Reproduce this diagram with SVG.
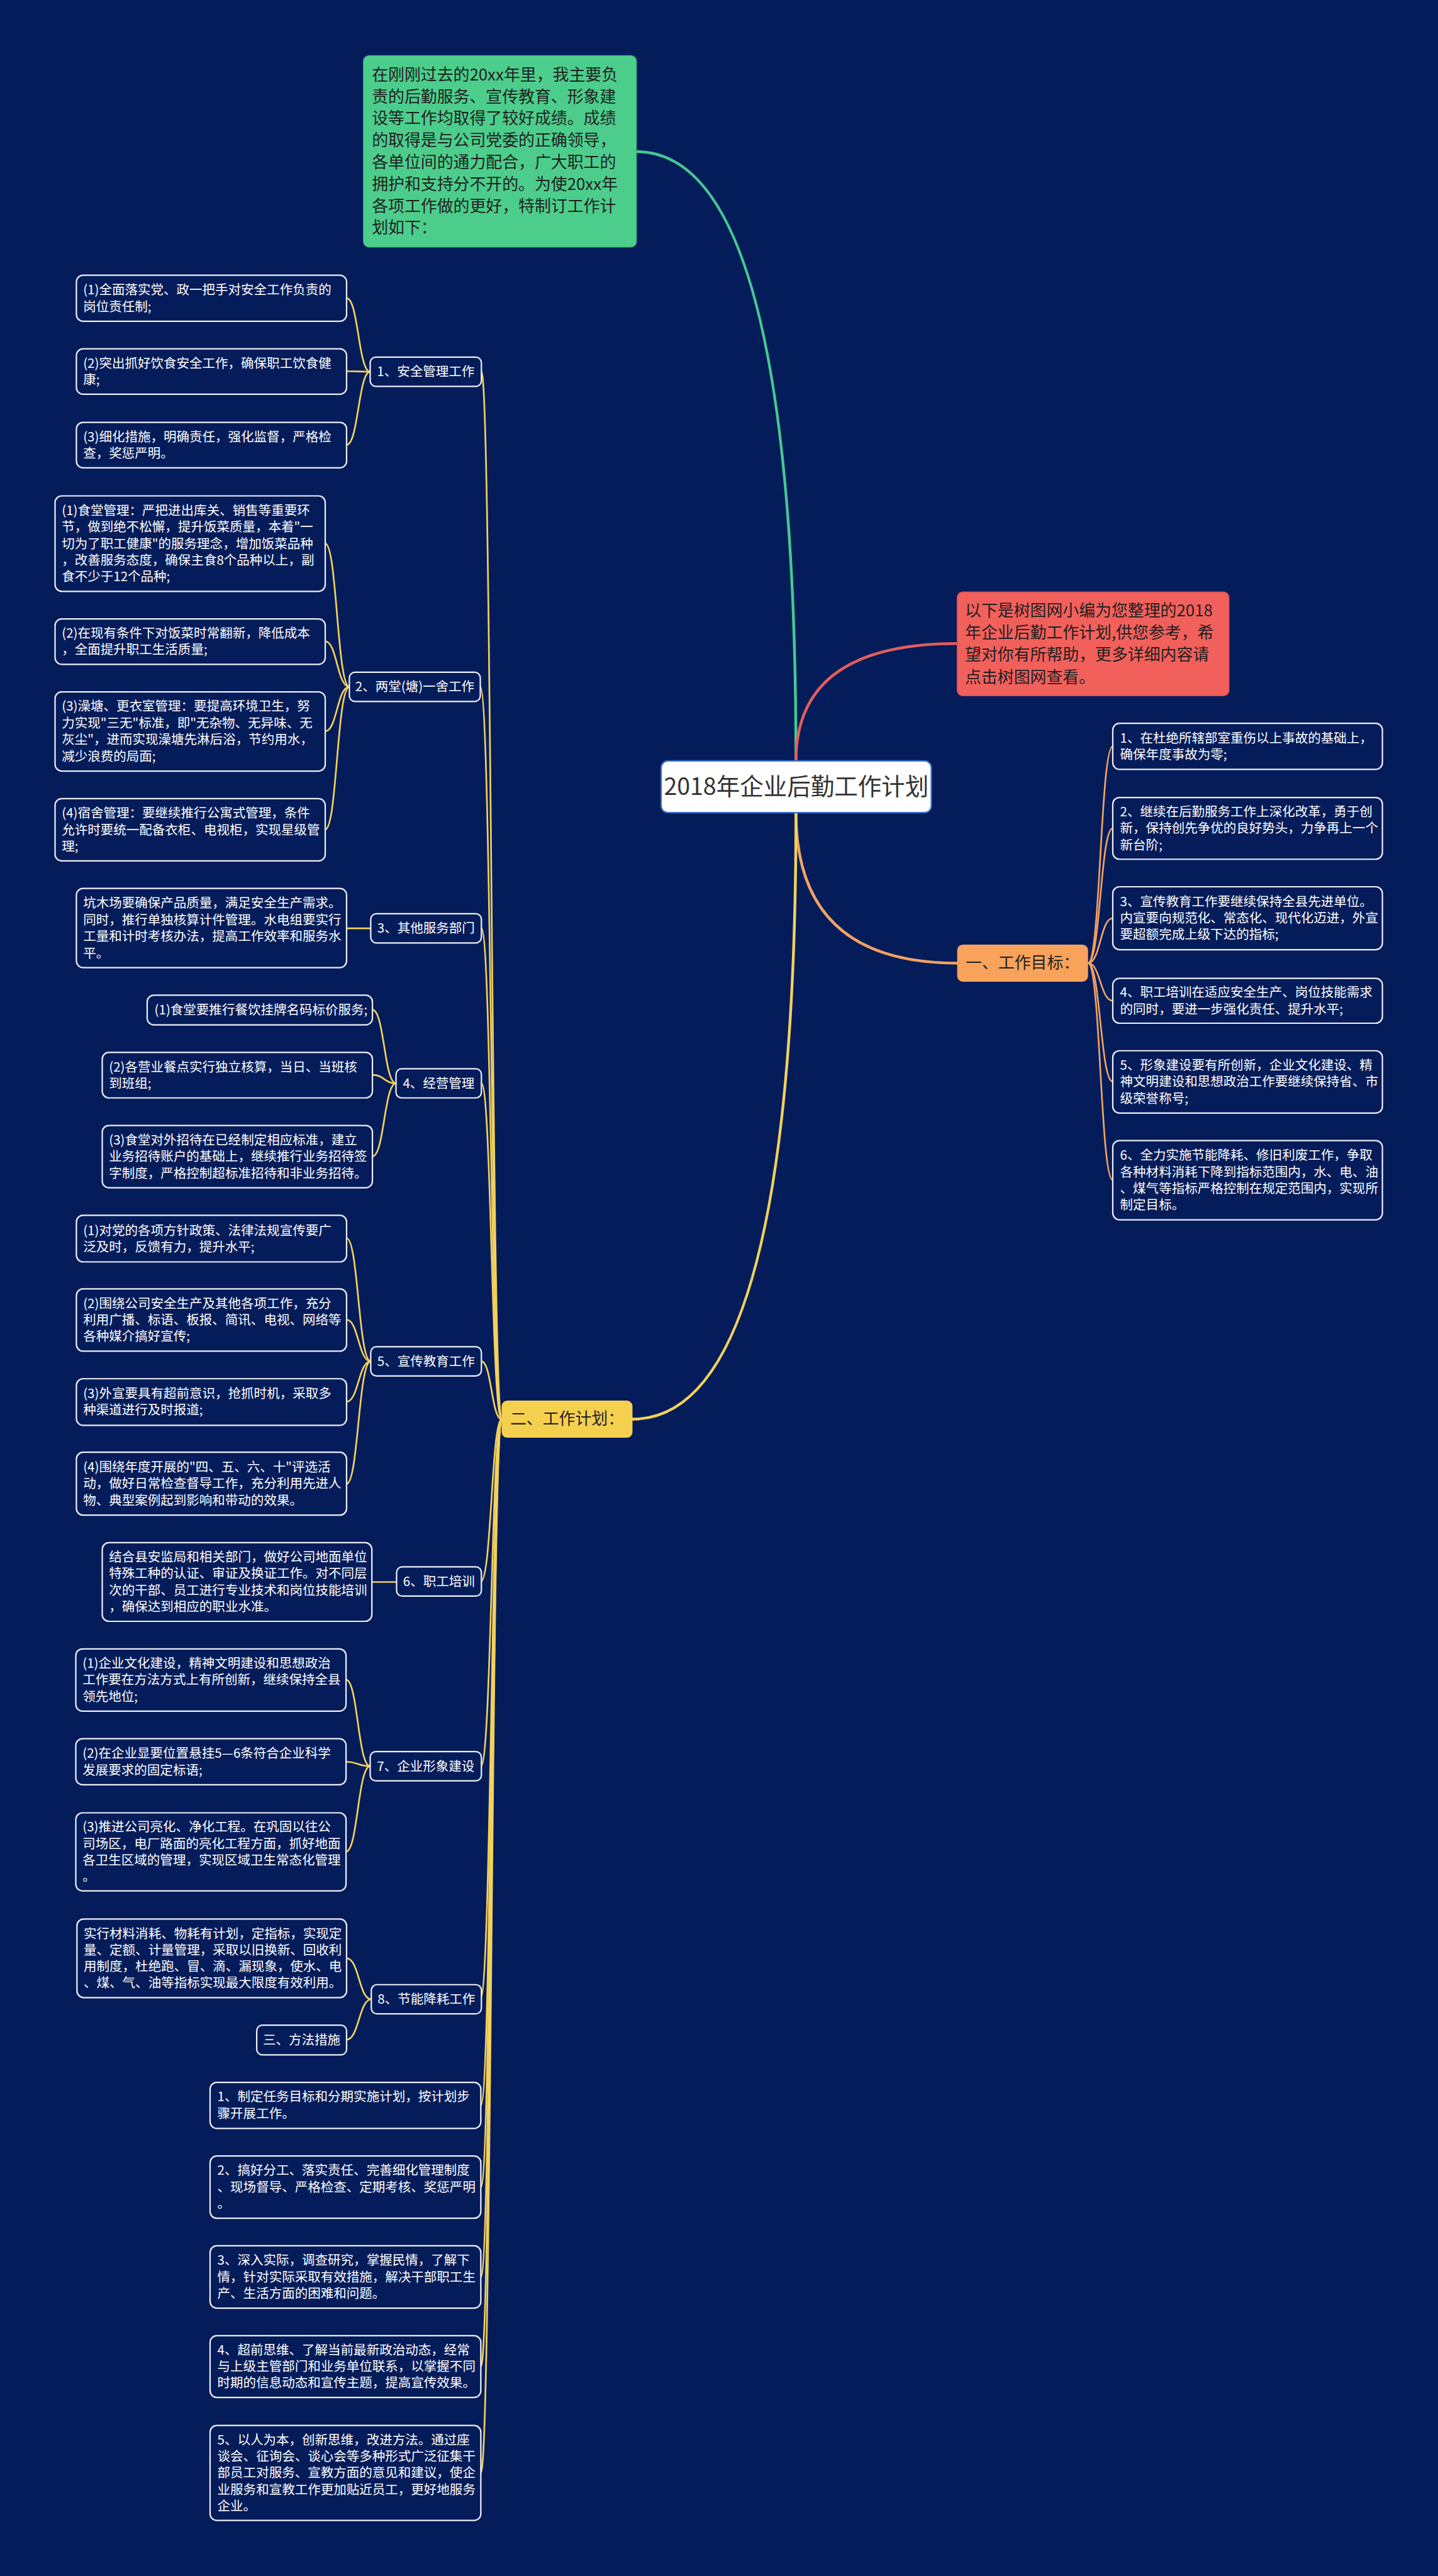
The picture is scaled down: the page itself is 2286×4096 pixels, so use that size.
<svg xmlns="http://www.w3.org/2000/svg" width="2286" height="4096" viewBox="0 0 2286 4096">
<style>
.bx{fill:#051c5a;stroke:#eef0f6;stroke-width:2.5}
.t{font-family:"Noto Sans CJK SC","Liberation Sans",sans-serif;font-size:23px;fill:#ffffff}
.tc{text-anchor:middle}
.d{font-size:29px;fill:#1f1f1f}
.rt{font-size:42px;fill:#333333}
.c1{fill:none;stroke-width:5;stroke-linecap:round}
.c2{fill:none;stroke-width:3}
.g{stroke:#45c98f}.r{stroke:#e35d5b}.o{stroke:#f2a262}.y{stroke:#f2d15c}
</style>
<rect x="0" y="0" width="2286" height="4096" fill="#051c5a"/>
<g transform="scale(0.89297)">
<g id="connectors">
<path class="c1 g" d="M1133,270 Q1417,270 1417,1355"/>
<path class="c1 r" d="M1417,1355 Q1417,1146 1704,1146"/>
<path class="c1 o" d="M1417,1447 Q1417,1715 1704,1715"/>
<path class="c1 y" d="M1417,1447 Q1417,2527 1126,2527"/>
<path class="c2 o" d="M1937,1715 C1959,1715 1959,1329 1981,1329"/>
<path class="c2 o" d="M1937,1715 C1959,1715 1959,1475 1981,1475"/>
<path class="c2 o" d="M1937,1715 C1959,1715 1959,1635 1981,1635"/>
<path class="c2 o" d="M1937,1715 C1959,1715 1959,1782 1981,1782"/>
<path class="c2 o" d="M1937,1715 C1959,1715 1959,1926 1981,1926"/>
<path class="c2 o" d="M1937,1715 C1959,1715 1959,2101 1981,2101"/>
<path class="c2 y" d="M893,2527 C875,2527 875,662 857,662"/>
<path class="c2 y" d="M893,2527 C875,2527 875,1223 855,1223"/>
<path class="c2 y" d="M893,2527 C875,2527 875,1653 857,1653"/>
<path class="c2 y" d="M893,2527 C875,2527 875,1929 857,1929"/>
<path class="c2 y" d="M893,2527 C875,2527 875,2424 857,2424"/>
<path class="c2 y" d="M893,2527 C875,2527 875,2816 856,2816"/>
<path class="c2 y" d="M893,2527 C875,2527 875,3145 856,3145"/>
<path class="c2 y" d="M893,2527 C875,2527 875,3560 855,3560"/>
<path class="c2 y" d="M893,2527 C875,2527 875,3749 856,3749"/>
<path class="c2 y" d="M893,2527 C875,2527 875,3894 856,3894"/>
<path class="c2 y" d="M893,2527 C875,2527 875,4054 856,4054"/>
<path class="c2 y" d="M893,2527 C875,2527 875,4214 856,4214"/>
<path class="c2 y" d="M893,2527 C875,2527 875,4403 856,4403"/>
<path class="c2 y" d="M659,662 C638,662 638,531 617,531"/>
<path class="c2 y" d="M659,662 C638,662 638,661 617,661"/>
<path class="c2 y" d="M659,662 C638,662 638,792 617,792"/>
<path class="c2 y" d="M622,1223 C600,1223 600,968 579,968"/>
<path class="c2 y" d="M622,1223 C600,1223 600,1142 579,1142"/>
<path class="c2 y" d="M622,1223 C600,1223 600,1302 579,1302"/>
<path class="c2 y" d="M622,1223 C600,1223 600,1477 579,1477"/>
<path class="c2 y" d="M617,1653 L660,1653"/>
<path class="c2 y" d="M705,1929 C684,1929 684,1798 663,1798"/>
<path class="c2 y" d="M705,1929 C684,1929 684,1914 663,1914"/>
<path class="c2 y" d="M705,1929 C684,1929 684,2059 663,2059"/>
<path class="c2 y" d="M660,2424 C638,2424 638,2205 617,2205"/>
<path class="c2 y" d="M660,2424 C638,2424 638,2350 617,2350"/>
<path class="c2 y" d="M660,2424 C638,2424 638,2496 617,2496"/>
<path class="c2 y" d="M660,2424 C638,2424 638,2642 617,2642"/>
<path class="c2 y" d="M662,2817 L706,2817"/>
<path class="c2 y" d="M659,3145 C637,3145 637,2991 616,2991"/>
<path class="c2 y" d="M659,3145 C637,3145 637,3137 616,3137"/>
<path class="c2 y" d="M659,3145 C637,3145 637,3297 616,3297"/>
<path class="c2 y" d="M661,3560 C639,3560 639,3487 617,3487"/>
<path class="c2 y" d="M661,3560 C639,3560 639,3632 617,3632"/>
</g>

<g id="intro">
<rect x="647" y="99" width="486" height="341" rx="10" fill="#4ccd8c" stroke="#3fb07a" stroke-width="1.5"/>
<text class="t d" x="662" y="143">在刚刚过去的20xx年里，我主要负</text>
<text class="t d" x="662" y="182">责的后勤服务、宣传教育、形象建</text>
<text class="t d" x="662" y="221">设等工作均取得了较好成绩。成绩</text>
<text class="t d" x="662" y="260">的取得是与公司党委的正确领导，</text>
<text class="t d" x="662" y="299">各单位间的通力配合，广大职工的</text>
<text class="t d" x="662" y="338">拥护和支持分不开的。为使20xx年</text>
<text class="t d" x="662" y="377">各项工作做的更好，特制订工作计</text>
<text class="t d" x="662" y="416">划如下：</text>
</g>

<g id="note">
<rect x="1704" y="1054" width="484" height="185" rx="10" fill="#f2605c" stroke="#d44c4a" stroke-width="1.5"/>
<text class="t d" x="1718" y="1097">以下是树图网小编为您整理的2018</text>
<text class="t d" x="1718" y="1137">年企业后勤工作计划,供您参考，希</text>
<text class="t d" x="1718" y="1176">望对你有所帮助，更多详细内容请</text>
<text class="t d" x="1718" y="1216">点击树图网查看。</text>
</g>

<g id="root">
<rect x="1177" y="1355" width="481" height="92" rx="12" fill="#ffffff" stroke="#3b6fd1" stroke-width="2.5"/>
<text class="t tc rt" x="1417.5" y="1416">2018年企业后勤工作计划</text>
</g>

<g id="goal">
<rect x="1704" y="1682" width="233" height="66" rx="10" fill="#f9a25b"/>
<text class="t tc d" x="1820.5" y="1725">一、工作目标：</text>
</g>

<g id="goal-1">
<rect class="bx" x="1981" y="1288" width="480" height="82" rx="12"/>
<text class="t" x="1994" y="1322">1、在杜绝所辖部室重伤以上事故的基础上，</text>
<text class="t" x="1994" y="1352">确保年度事故为零;</text>
</g>
<g id="goal-2">
<rect class="bx" x="1981" y="1420" width="480" height="110" rx="12"/>
<text class="t" x="1994" y="1453.5">2、继续在后勤服务工作上深化改革，勇于创</text>
<text class="t" x="1994" y="1483">新，保持创先争优的良好势头，力争再上一个</text>
<text class="t" x="1994" y="1512.5">新台阶;</text>
</g>
<g id="goal-3">
<rect class="bx" x="1981" y="1579" width="480" height="112" rx="12"/>
<text class="t" x="1994" y="1613.5">3、宣传教育工作要继续保持全县先进单位。</text>
<text class="t" x="1994" y="1643">内宣要向规范化、常态化、现代化迈进，外宣</text>
<text class="t" x="1994" y="1672.5">要超额完成上级下达的指标;</text>
</g>
<g id="goal-4">
<rect class="bx" x="1981" y="1742" width="480" height="80" rx="12"/>
<text class="t" x="1994" y="1775">4、职工培训在适应安全生产、岗位技能需求</text>
<text class="t" x="1994" y="1805">的同时，要进一步强化责任、提升水平;</text>
</g>
<g id="goal-5">
<rect class="bx" x="1981" y="1871" width="480" height="111" rx="12"/>
<text class="t" x="1994" y="1905">5、形象建设要有所创新，企业文化建设、精</text>
<text class="t" x="1994" y="1934.5">神文明建设和思想政治工作要继续保持省、市</text>
<text class="t" x="1994" y="1964">级荣誉称号;</text>
</g>
<g id="goal-6">
<rect class="bx" x="1981" y="2031" width="480" height="141" rx="12"/>
<text class="t" x="1994" y="2065">6、全力实施节能降耗、修旧利废工作，争取</text>
<text class="t" x="1994" y="2095">各种材料消耗下降到指标范围内，水、电、油</text>
<text class="t" x="1994" y="2124">、煤气等指标严格控制在规定范围内，实现所</text>
<text class="t" x="1994" y="2154">制定目标。</text>
</g>

<g id="plan">
<rect x="893" y="2494" width="233" height="66" rx="10" fill="#f5d04f"/>
<text class="t tc d" x="1009.5" y="2537">二、工作计划：</text>
</g>

<g id="n1">
<rect class="bx" x="659" y="636" width="198" height="52" rx="10"/>
<text class="t tc" x="758" y="670">1、安全管理工作</text>
</g>
<g id="n1-1">
<rect class="bx" x="136" y="490" width="481" height="82" rx="12"/>
<text class="t" x="148" y="524">(1)全面落实党、政一把手对安全工作负责的</text>
<text class="t" x="148" y="554">岗位责任制;</text>
</g>
<g id="n1-2">
<rect class="bx" x="136" y="621" width="481" height="81" rx="12"/>
<text class="t" x="148" y="655">(2)突出抓好饮食安全工作，确保职工饮食健</text>
<text class="t" x="148" y="684.5">康;</text>
</g>
<g id="n1-3">
<rect class="bx" x="136" y="752" width="481" height="81" rx="12"/>
<text class="t" x="148" y="786">(3)细化措施，明确责任，强化监督，严格检</text>
<text class="t" x="148" y="815.5">查，奖惩严明。</text>
</g>

<g id="n2">
<rect class="bx" x="622" y="1197" width="233" height="52" rx="10"/>
<text class="t tc" x="738.5" y="1231">2、两堂(塘)一舍工作</text>
</g>
<g id="n2-1">
<rect class="bx" x="98" y="883" width="481" height="170" rx="12"/>
<text class="t" x="110" y="917">(1)食堂管理：严把进出库关、销售等重要环</text>
<text class="t" x="110" y="946.5">节，做到绝不松懈，提升饭菜质量，本着"一</text>
<text class="t" x="110" y="976">切为了职工健康"的服务理念，增加饭菜品种</text>
<text class="t" x="110" y="1005.5">，改善服务态度，确保主食8个品种以上，副</text>
<text class="t" x="110" y="1035">食不少于12个品种;</text>
</g>
<g id="n2-2">
<rect class="bx" x="98" y="1102" width="481" height="81" rx="12"/>
<text class="t" x="110" y="1136">(2)在现有条件下对饭菜时常翻新，降低成本</text>
<text class="t" x="110" y="1165">，全面提升职工生活质量;</text>
</g>
<g id="n2-3">
<rect class="bx" x="98" y="1232" width="481" height="141" rx="12"/>
<text class="t" x="110" y="1266">(3)澡塘、更衣室管理：要提高环境卫生，努</text>
<text class="t" x="110" y="1296">力实现"三无"标准，即"无杂物、无异味、无</text>
<text class="t" x="110" y="1325">灰尘"，进而实现澡塘先淋后浴，节约用水，</text>
<text class="t" x="110" y="1355">减少浪费的局面;</text>
</g>
<g id="n2-4">
<rect class="bx" x="98" y="1422" width="481" height="111" rx="12"/>
<text class="t" x="110" y="1456">(4)宿舍管理：要继续推行公寓式管理，条件</text>
<text class="t" x="110" y="1485.5">允许时要统一配备衣柜、电视柜，实现星级管</text>
<text class="t" x="110" y="1515">理;</text>
</g>

<g id="n3">
<rect class="bx" x="660" y="1627" width="197" height="52" rx="10"/>
<text class="t tc" x="758.5" y="1661">3、其他服务部门</text>
</g>
<g id="n3-1">
<rect class="bx" x="136" y="1582" width="481" height="141" rx="12"/>
<text class="t" x="148" y="1616">坑木场要确保产品质量，满足安全生产需求。</text>
<text class="t" x="148" y="1646">同时，推行单独核算计件管理。水电组要实行</text>
<text class="t" x="148" y="1675">工量和计时考核办法，提高工作效率和服务水</text>
<text class="t" x="148" y="1705">平。</text>
</g>

<g id="n4">
<rect class="bx" x="705" y="1903" width="152" height="52" rx="10"/>
<text class="t tc" x="781" y="1937">4、经营管理</text>
</g>
<g id="n4-1">
<rect class="bx" x="262" y="1772" width="401" height="53" rx="12"/>
<text class="t" x="275" y="1806.5">(1)食堂要推行餐饮挂牌名码标价服务;</text>
</g>
<g id="n4-2">
<rect class="bx" x="182" y="1874" width="481" height="81" rx="12"/>
<text class="t" x="194" y="1908">(2)各营业餐点实行独立核算，当日、当班核</text>
<text class="t" x="194" y="1937.5">到班组;</text>
</g>
<g id="n4-3">
<rect class="bx" x="182" y="2004" width="481" height="111" rx="12"/>
<text class="t" x="194" y="2038">(3)食堂对外招待在已经制定相应标准，建立</text>
<text class="t" x="194" y="2067.5">业务招待账户的基础上，继续推行业务招待签</text>
<text class="t" x="194" y="2097">字制度，严格控制超标准招待和非业务招待。</text>
</g>

<g id="n5">
<rect class="bx" x="660" y="2398" width="197" height="52" rx="10"/>
<text class="t tc" x="758.5" y="2432">5、宣传教育工作</text>
</g>
<g id="n5-1">
<rect class="bx" x="136" y="2164" width="481" height="83" rx="12"/>
<text class="t" x="148" y="2199">(1)对党的各项方针政策、法律法规宣传要广</text>
<text class="t" x="148" y="2228">泛及时，反馈有力，提升水平;</text>
</g>
<g id="n5-2">
<rect class="bx" x="136" y="2295" width="481" height="111" rx="12"/>
<text class="t" x="148" y="2329">(2)围绕公司安全生产及其他各项工作，充分</text>
<text class="t" x="148" y="2358.5">利用广播、标语、板报、简讯、电视、网络等</text>
<text class="t" x="148" y="2388">各种媒介搞好宣传;</text>
</g>
<g id="n5-3">
<rect class="bx" x="136" y="2455" width="481" height="83" rx="12"/>
<text class="t" x="148" y="2490">(3)外宣要具有超前意识，抢抓时机，采取多</text>
<text class="t" x="148" y="2519">种渠道进行及时报道;</text>
</g>
<g id="n5-4">
<rect class="bx" x="136" y="2586" width="481" height="112" rx="12"/>
<text class="t" x="148" y="2620.5">(4)围绕年度开展的"四、五、六、十"评选活</text>
<text class="t" x="148" y="2650">动，做好日常检查督导工作，充分利用先进人</text>
<text class="t" x="148" y="2679.5">物、典型案例起到影响和带动的效果。</text>
</g>

<g id="n6">
<rect class="bx" x="706" y="2790" width="151" height="52" rx="10"/>
<text class="t tc" x="781.5" y="2824">6、职工培训</text>
</g>
<g id="n6-1">
<rect class="bx" x="182" y="2747" width="480" height="140" rx="12"/>
<text class="t" x="194" y="2781">结合县安监局和相关部门，做好公司地面单位</text>
<text class="t" x="194" y="2810">特殊工种的认证、审证及换证工作。对不同层</text>
<text class="t" x="194" y="2840">次的干部、员工进行专业技术和岗位技能培训</text>
<text class="t" x="194" y="2869">，确保达到相应的职业水准。</text>
</g>

<g id="n7">
<rect class="bx" x="659" y="3119" width="198" height="52" rx="10"/>
<text class="t tc" x="758" y="3153">7、企业形象建设</text>
</g>
<g id="n7-1">
<rect class="bx" x="135" y="2936" width="481" height="111" rx="12"/>
<text class="t" x="147" y="2970">(1)企业文化建设，精神文明建设和思想政治</text>
<text class="t" x="147" y="2999.5">工作要在方法方式上有所创新，继续保持全县</text>
<text class="t" x="147" y="3029">领先地位;</text>
</g>
<g id="n7-2">
<rect class="bx" x="135" y="3096" width="481" height="82" rx="12"/>
<text class="t" x="147" y="3130">(2)在企业显要位置悬挂5—6条符合企业科学</text>
<text class="t" x="147" y="3160">发展要求的固定标语;</text>
</g>
<g id="n7-3">
<rect class="bx" x="135" y="3228" width="481" height="139" rx="12"/>
<text class="t" x="147" y="3261">(3)推进公司亮化、净化工程。在巩固以往公</text>
<text class="t" x="147" y="3291">司场区，电厂路面的亮化工程方面，抓好地面</text>
<text class="t" x="147" y="3320">各卫生区域的管理，实现区域卫生常态化管理</text>
<text class="t" x="147" y="3350">。</text>
</g>

<g id="n8">
<rect class="bx" x="661" y="3534" width="196" height="52" rx="10"/>
<text class="t tc" x="759" y="3568">8、节能降耗工作</text>
</g>
<g id="n8-1">
<rect class="bx" x="137" y="3417" width="480" height="140" rx="12"/>
<text class="t" x="149" y="3451">实行材料消耗、物耗有计划，定指标，实现定</text>
<text class="t" x="149" y="3480">量、定额、计量管理，采取以旧换新、回收利</text>
<text class="t" x="149" y="3510">用制度，杜绝跑、冒、滴、漏现象，使水、电</text>
<text class="t" x="149" y="3539">、煤、气、油等指标实现最大限度有效利用。</text>
</g>
<g id="n8-2">
<rect class="bx" x="457" y="3606" width="160" height="53" rx="10"/>
<text class="t tc" x="537" y="3640.5">三、方法措施</text>
</g>

<g id="m1">
<rect class="bx" x="374" y="3708" width="482" height="82" rx="12"/>
<text class="t" x="387" y="3742">1、制定任务目标和分期实施计划，按计划步</text>
<text class="t" x="387" y="3772">骤开展工作。</text>
</g>
<g id="m2">
<rect class="bx" x="374" y="3839" width="482" height="111" rx="12"/>
<text class="t" x="387" y="3873">2、搞好分工、落实责任、完善细化管理制度</text>
<text class="t" x="387" y="3902.5">、现场督导、严格检查、定期考核、奖惩严明</text>
<text class="t" x="387" y="3932">。</text>
</g>
<g id="m3">
<rect class="bx" x="374" y="3999" width="482" height="111" rx="12"/>
<text class="t" x="387" y="4033">3、深入实际，调查研究，掌握民情，了解下</text>
<text class="t" x="387" y="4062.5">情，针对实际采取有效措施，解决干部职工生</text>
<text class="t" x="387" y="4092">产、生活方面的困难和问题。</text>
</g>
<g id="m4">
<rect class="bx" x="374" y="4159" width="482" height="110" rx="12"/>
<text class="t" x="387" y="4192.5">4、超前思维、了解当前最新政治动态，经常</text>
<text class="t" x="387" y="4222">与上级主管部门和业务单位联系，以掌握不同</text>
<text class="t" x="387" y="4251.5">时期的信息动态和宣传主题，提高宣传效果。</text>
</g>
<g id="m5">
<rect class="bx" x="374" y="4319" width="482" height="169" rx="12"/>
<text class="t" x="387" y="4352.5">5、以人为本，创新思维，改进方法。通过座</text>
<text class="t" x="387" y="4382">谈会、征询会、谈心会等多种形式广泛征集干</text>
<text class="t" x="387" y="4411.5">部员工对服务、宣教方面的意见和建议，使企</text>
<text class="t" x="387" y="4441">业服务和宣教工作更加贴近员工，更好地服务</text>
<text class="t" x="387" y="4470.5">企业。</text>
</g>
</g>
</svg>
